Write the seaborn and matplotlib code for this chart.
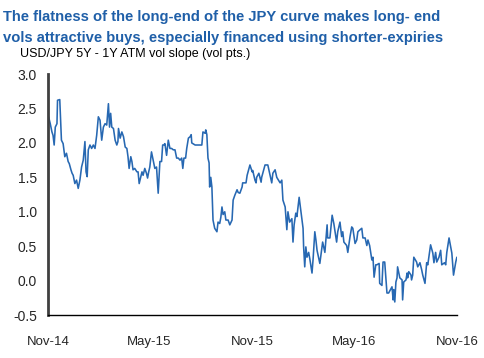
import pandas as pd
import seaborn as sns
import matplotlib.pyplot as plt
import matplotlib.dates as mdates

# Данные: дни от 1 ноября 2014 и наклон волатильности (vol pts.)
start = pd.Timestamp("2014-11-01")
days = [1, 4, 7, 9, 11, 13, 16, 17, 21, 24, 27, 30, 33, 36, 38, 41, 43, 45, 48, 51,
        54, 57, 60, 63, 66, 68, 70, 72, 75, 78, 81, 84, 87, 90, 93, 96, 99, 102, 105, 108,
        110, 112, 114, 117, 120, 123, 125, 126, 129, 132, 135, 138, 141, 143, 145, 148, 150, 152, 155, 159,
        161, 163, 166, 168, 170, 173, 176, 178, 180, 182, 185, 188, 191, 194, 197, 200, 203, 205, 207, 209,
        212, 215, 218, 221, 224, 227, 230, 233, 236, 239, 241, 243, 246, 248, 251, 254,
        256, 257, 263, 270, 275, 277, 281, 282, 284, 286, 288, 289, 291, 293, 295, 298, 302, 304, 307, 309,
        311, 313, 316, 318, 322, 325, 329, 331, 334, 338, 340, 343, 347, 348, 354, 356, 361, 365, 366, 370,
        372, 373, 377, 381, 382, 388, 393, 397, 400, 402, 406, 409, 415, 418, 420, 424, 427, 429, 432, 436,
        438, 440, 443, 445, 449, 452, 456, 457, 459, 461, 463, 466, 468, 472, 474, 477, 479, 481, 486, 490,
        491, 495, 499, 500, 504, 508, 511, 516, 518, 522, 525, 527, 529, 534, 536, 540, 543, 545, 549, 552,
        554, 558, 561, 563, 567, 570, 572, 575, 579, 581, 583, 586, 588, 592, 593, 597, 599, 602, 606, 609,
        615, 617, 618, 620, 622, 624, 625, 629, 633, 634, 636, 640, 642, 643, 645, 649, 650, 652, 654, 659,
        661, 665, 668, 670, 674, 677, 679, 684, 688, 690, 693, 695, 699, 702, 704, 709, 711, 713, 717, 720,
        722, 725, 729, 731]
slope = [2.38, 2.28, 2.16, 2.11, 1.97, 2.23, 2.28, 2.62, 2.63, 2.04, 1.99, 1.80, 1.85, 1.73, 1.70, 1.61, 1.56, 1.53, 1.41, 1.46,
         1.34, 1.46, 1.65, 1.75, 2.02, 1.58, 1.51, 1.90, 1.97, 1.92, 1.97, 1.92, 2.11, 2.38, 2.33, 2.04, 2.23, 2.28, 2.26, 2.57,
         2.23, 2.43, 2.23, 2.21, 2.04, 1.97, 2.02, 2.21, 2.07, 2.16, 2.09, 1.94, 1.92, 1.80, 1.63, 1.80, 1.73, 1.61, 1.63, 1.58,
         1.58, 1.41, 1.51, 1.58, 1.53, 1.63, 1.56, 1.49, 1.58, 1.65, 1.87, 1.75, 1.63, 1.65, 1.27, 1.73, 1.73, 1.97, 1.97, 1.99,
         1.82, 2.04, 1.92, 1.92, 1.90, 1.90, 1.78, 1.78, 1.75, 1.78, 1.63, 1.78, 1.78, 1.92, 2.07, 2.09,
         2.12, 2.00, 1.97, 1.97, 1.97, 2.16, 2.14, 2.19, 2.12, 1.78, 1.71, 1.36, 1.50, 1.36, 0.88, 0.76, 0.71, 0.85, 0.83, 0.92,
         1.07, 0.96, 1.00, 0.88, 0.88, 0.81, 0.88, 1.17, 1.24, 1.32, 1.28, 1.27, 1.36, 1.42, 1.42, 1.53, 1.68, 1.58, 1.60, 1.46,
         1.42, 1.50, 1.56, 1.43, 1.50, 1.68, 1.68, 1.53, 1.42, 1.56, 1.61, 1.50, 1.42, 1.46, 1.17, 1.07, 0.74, 1.00, 0.85, 0.90,
         0.56, 0.81, 0.98, 0.93, 1.21, 1.02, 0.76, 0.49, 0.20, 0.49, 0.34, 0.41, 0.32, 0.11, 0.32, 0.71, 0.59, 0.44, 0.25, 0.49,
         0.56, 0.41, 0.81, 0.62, 0.62, 0.95, 0.83, 0.56, 0.71, 0.85, 0.64, 0.71, 0.56, 0.51, 0.41, 0.64, 0.78, 0.76, 0.54, 0.59,
         0.71, 0.74, 0.76, 0.62, 0.62, 0.51, 0.59, 0.51, 0.30, 0.34, 0.05, 0.23, 0.23, 0.25, -0.04, -0.07, 0.27, 0.27, -0.18, -0.18,
         -0.09, -0.28, -0.13, -0.31, -0.02, 0.04, 0.20, 0.04, 0.01, -0.28, -0.02, 0.01, 0.11, 0.04, 0.13, 0.08, 0.01, 0.08, 0.34, 0.27,
         0.20, 0.26, 0.16, 0.08, -0.04, 0.26, 0.23, 0.52, 0.40, 0.26, 0.41, 0.27, 0.34, 0.44, 0.23, 0.26, 0.23, 0.41, 0.62, 0.49,
         0.40, 0.08, 0.27, 0.34]
y_ticks = [-0.5, 0.0, 0.5, 1.0, 1.5, 2.0, 2.5, 3.0]
x_ticks = ["2014-11-01", "2015-05-01", "2015-11-01", "2016-05-01", "2016-11-01"]

df = pd.DataFrame({"date": start + pd.to_timedelta(days, unit="D"), "slope": slope})

sns.set_style("white")
plt.rcParams["font.family"] = ["Liberation Sans", "DejaVu Sans"]

fig = plt.figure(figsize=(4.85, 3.58), dpi=100)
ax = fig.add_axes([0.099, 0.120, 0.843, 0.673])

sns.lineplot(data=df, x="date", y="slope", color="#2768B2", linewidth=1.15, ax=ax)

ax.set_xlim(pd.Timestamp(x_ticks[0]), pd.Timestamp(x_ticks[-1]))
ax.set_ylim(-0.5, 3.0)
ax.set_xticks(pd.to_datetime(x_ticks))
ax.xaxis.set_major_formatter(mdates.DateFormatter("%b-%y"))
ax.set_yticks(y_ticks)
ax.set_yticklabels([f"{t:.1f}" for t in y_ticks])
ax.set_xlabel("")
ax.set_ylabel("")

for s in ["top", "right"]:
    ax.spines[s].set_visible(False)
ax.spines["left"].set_color("#404040")
ax.spines["left"].set_linewidth(2.0)
ax.spines["bottom"].set_color("black")
ax.spines["bottom"].set_linewidth(1.0)
ax.tick_params(axis="x", direction="out", length=5, width=1, color="black",
               labelsize=9.5, pad=10)
ax.tick_params(axis="y", direction="out", length=4, width=1, color="#404040",
               labelsize=10, pad=4)

fig.text(0.006, 0.952, "The flatness of the long-end of the JPY curve makes long- end",
         color="#1F5FA8", fontsize=10.6, fontweight="bold", va="center")
fig.text(0.006, 0.893, "vols attractive buys, especially financed using shorter-expiries",
         color="#1F5FA8", fontsize=10.6, fontweight="bold", va="center")
fig.text(0.041, 0.850, "USD/JPY 5Y - 1Y ATM vol slope (vol pts.)",
         color="black", fontsize=9, va="center")

fig.savefig("out.png", dpi=100)
